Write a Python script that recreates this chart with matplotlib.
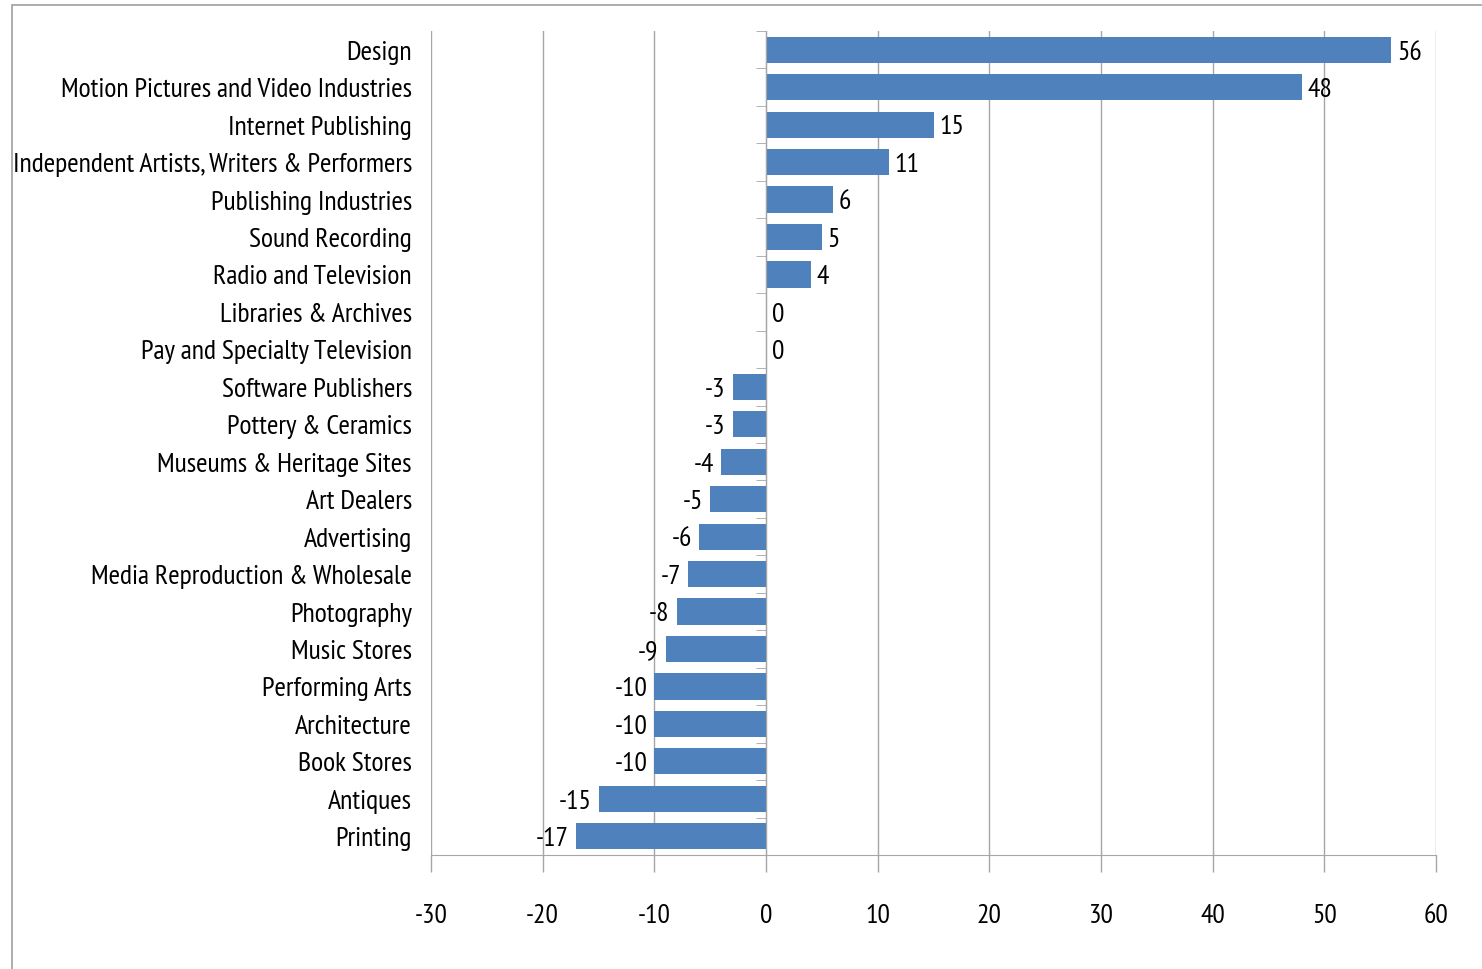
import matplotlib
matplotlib.use("Agg")
import matplotlib.pyplot as plt
from matplotlib.patches import Rectangle
import matplotlib.transforms as mtransforms
import numpy as np

# categories from top to bottom, with the change values
categories = [
    "Design", "Motion Pictures and Video Industries", "Internet Publishing",
    "Independent Artists, Writers & Performers", "Publishing Industries",
    "Sound Recording", "Radio and Television", "Libraries & Archives",
    "Pay and Specialty Television", "Software Publishers", "Pottery & Ceramics",
    "Museums & Heritage Sites", "Art Dealers", "Advertising",
    "Media Reproduction & Wholesale", "Photography", "Music Stores",
    "Performing Arts", "Architecture", "Book Stores", "Antiques", "Printing",
]
values = [56, 48, 15, 11, 6, 5, 4, 0, 0, -3, -3, -4, -5, -6, -7, -8, -9,
          -10, -10, -10, -15, -17]
xticks = [-30, -20, -10, 0, 10, 20, 30, 40, 50, 60]

plt.rcParams['font.family'] = ['PT Sans Narrow', 'DejaVu Sans']
fs = 20
bar_color = '#4F81BD'
grid_color = '#A6A6A6'

fig = plt.figure(figsize=(14.82, 9.69), dpi=100)
W, H = 1482, 969
ax = fig.add_axes([431 / W, 1 - 855 / H, (1436 - 431) / W, (855 - 31) / H])

# outer chart border
fig.patches.append(Rectangle((12 / W, -0.05), 1.1, 1 - 5 / H + 0.05,
                             transform=fig.transFigure, fill=False,
                             edgecolor='#A0A0A0', lw=1.2))

n = len(categories)
y = np.arange(n)
ax.barh(y, values, height=0.7, color=bar_color, zorder=3)

ax.set_xlim(-30, 60)
ax.set_ylim(n - 0.5, -0.5)
ax.set_xticks(xticks)
ax.set_xticklabels([str(t) for t in xticks], fontsize=fs)
ax.xaxis.grid(True, color=grid_color, lw=1)
ax.set_axisbelow(True)
ax.tick_params(axis='x', length=12, width=1, color=grid_color, pad=23)

for s in ['top', 'right']:
    ax.spines[s].set_visible(False)
ax.spines['bottom'].set_color(grid_color)
ax.spines['left'].set_position(('data', 0))
ax.spines['left'].set_color(grid_color)
ax.spines['left'].set_zorder(4)

ax.set_yticks(y)
ax.set_yticklabels([])
ax.set_yticks(np.arange(n + 1) - 0.5, minor=True)
ax.tick_params(axis='y', which='major', length=0)
ax.tick_params(axis='y', which='minor', length=7, color=grid_color)

# text sits a little below the bar centres in the original
shift = mtransforms.ScaledTranslation(0, -3 / 100, fig.dpi_scale_trans)

# category labels, placed left of the plot area
for yi, name in zip(y, categories):
    ax.text(-0.019, yi, name, transform=ax.get_yaxis_transform() + shift,
            ha='right', va='center', fontsize=fs)

# value labels
for yi, v in zip(y, values):
    if v >= 0:
        ax.annotate(str(v), (v, yi), xytext=(4, -2), textcoords='offset points',
                    ha='left', va='center', fontsize=fs, zorder=5)
    else:
        ax.annotate(str(v), (v, yi), xytext=(-5, -2), textcoords='offset points',
                    ha='right', va='center', fontsize=fs, zorder=5)

fig.savefig('out.png', dpi=100)
